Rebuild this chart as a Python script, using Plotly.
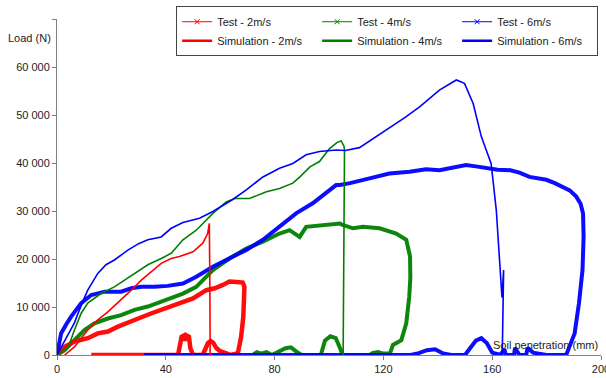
import plotly.graph_objects as go

# ---------------- data (soil penetration mm, load N) ----------------
sim2_x = [2.8, 6.4, 11.3, 15, 18.7, 23.6, 27.3, 31, 34.6, 38.3, 42, 45, 50, 53.6, 55.4, 56, 56.2, 56.3]
sim2_y = [0, 1700, 5200, 7300, 9000, 11500, 13500, 15600, 17400, 19100, 20100, 20500, 21500, 23300, 25300, 27400, 15000, 0]

sim4_x = [0, 4.2, 6.4, 8.9, 11.3, 16.2, 21.1, 24.8, 28.5, 33.4, 38.3, 42, 46.3, 51.2, 57.3, 62.2, 65.3,
          70.8, 77, 81.8, 86.7, 89.3, 93, 96.5, 100.2, 103, 104.5, 105.5, 105.7, 105.4, 105.2]
sim4_y = [0, 1700, 5200, 8700, 10800, 12800, 14200, 15600, 17000, 18800, 20100, 21200, 24000, 26000, 29500, 31900, 32600,
          32600, 34000, 34700, 35800, 37100, 39200, 40300, 43000, 44300, 44600, 43500, 42700, 20000, 0]

sim6_x = [0, 2, 4, 6.4, 9, 11.3, 15, 18, 21.1, 26.2, 30, 33.4, 38.3, 42, 46.3, 52.4, 57.3, 64.6, 69.6, 75.7,
          81.8, 86.7, 91.6, 96.5, 102.6, 106, 111.2, 116, 122.2, 128, 133.3, 140.6, 146.8, 149.8, 153, 156,
          157.8, 159.6, 161.5, 162.7, 163.3, 163.6, 164.2, 164.0, 163.7, 163.7]
sim6_y = [0, 2000, 4200, 6700, 10500, 13500, 17000, 18800, 19800, 21900, 23200, 24000, 24600, 26400, 27600, 28500, 29900, 32400, 34400, 37100,
          38900, 39900, 41700, 42400, 42700, 42600, 43200, 45000, 47200, 49500, 51700, 55200, 57300, 56600, 52400, 45500,
          42700, 39900, 30200, 19800, 13500, 12000, 17700, 13000, 5000, 0]

test2_x = [0, 2.8, 6.4, 11.3, 15, 18.7, 22.4, 26, 29.9, 34.8, 39.5, 43.2, 46.3, 50, 54.9, 58, 61, 63.4, 66, 68.3,
           68.9, 68.8, 68.5, 67.7, 66.5, 64, 62, 60, 58.5, 57.5, 56.5, 55.5, 54.5, 53.5, 50, 49, 48.5, 47.5,
           47, 46.5, 45.8, 45, 44.5, 25, 12.6]
test2_y = [0, 1700, 2800, 3500, 4500, 4900, 5900, 6600, 7600, 8700, 9700, 10400, 11100, 11800, 13500, 13900, 14600, 15300, 15200, 15100,
           14200, 12000, 8000, 3800, 400, 0, 300, 800, 1500, 2500, 2900, 2500, 1200, 0, 0, 1500, 3800, 4100,
           3000, 4000, 3800, 1000, 0, 0, 0]

test4_x = [0, 2.8, 6.4, 10.1, 13.8, 18.7, 23.6, 28.5, 33.4, 38.3, 43.2, 46.3, 51.2, 57.3, 63.4, 69.6, 75.7, 81.8,
           85.5, 87.5, 89.2, 91.6, 97.7, 100.2, 104, 105, 108.8, 112.5, 118.6, 124.7, 128.4, 129.8, 129.9, 129.5,
           128.4, 126.6, 123.5, 122.4, 120, 118, 116, 115, 105, 104, 102.5, 100.5, 98.5, 97, 90, 88, 86, 84,
           81, 79, 77, 75, 73.5, 72]
test4_y = [0, 1000, 3100, 5200, 6600, 7600, 8300, 9400, 10100, 11100, 12100, 12800, 14200, 17700, 20100, 22200, 23600, 25300,
           26000, 25300, 24600, 26700, 27100, 27100, 27400, 27100, 26400, 26700, 26400, 25300, 24000, 20500, 16000, 12100,
           6600, 3100, 2100, 300, 300, 600, 400, 0, 0, 1500, 3500, 3900, 3000, 0, 0, 700, 1600, 1400,
           500, 0, 600, 300, 600, 0]

test6_x = [0, 1.5, 3.5, 5.2, 8.9, 12.6, 17.5, 23.6, 27.3, 31, 35.8, 40.7, 46.3, 51.2, 57.3, 63.4, 69.6, 75.7,
           81.8, 87.9, 94, 99, 102.6, 104, 107.7, 114.9, 122.2, 129.6, 135.7, 140.6, 145, 150.4, 154, 158.1,
           162, 166.7, 170, 173.7, 176.5, 179.9, 183, 186, 188.5, 190.9, 192.5, 193.4, 193.6, 193.2, 191.9,
           190.3, 188.5, 187.2, 180, 175, 173, 172.5, 170, 168.4, 168, 165, 164.5, 163, 160, 158, 156, 154,
           152, 150, 145, 142, 139, 136, 133, 130, 100, 65, 32]
test6_y = [0, 4500, 6500, 8000, 10800, 12500, 13200, 13200, 13900, 14200, 14200, 14400, 14900, 16300, 18400, 20100, 21900, 24000,
           26700, 29500, 31600, 33700, 35400, 35400, 35800, 36800, 37800, 38200, 38700, 38500, 39000, 39600, 39300, 38900,
           38600, 38500, 38000, 37100, 36900, 36500, 35800, 35100, 34300, 33000, 31500, 29500, 24600, 17700, 10800,
           4500, 2000, 0, 0, 500, 1500, 0, 0, 1500, 0, 0, 1200, 0, 500, 2500, 3500, 3000,
           1500, 0, 0, 300, 1200, 1000, 400, 0, 0, 0, 0]

x_ticks = [0, 40, 80, 120, 160, 200]
y_ticks = [0, 10000, 20000, 30000, 40000, 50000, 60000, 70000]
y_tick_text = ["0", "10 000", "20 000", "30 000", "40 000", "50 000", "60 000", ""]

legend_names = ["Test - 2m/s", "Test - 4m/s", "Test - 6m/s",
                "Simulation - 2m/s", "Simulation - 4m/s", "Simulation - 6m/s"]

RED, GREEN, BLUE = "#ff0000", "#008000", "#0000ff"
FONT = "Liberation Sans, Arial"

fig = go.Figure()

# test curves (dense markers in the original -> thick fuzzy lines)
for xs, ys, c, w in [(test4_x, test4_y, GREEN, 4), (test2_x, test2_y, RED, 4.5), (test6_x, test6_y, BLUE, 4)]:
    fig.add_trace(go.Scatter(x=xs, y=ys, mode="lines", line=dict(color=c, width=w),
                             opacity=0.95, showlegend=False, hoverinfo="skip"))
# simulation curves
for xs, ys, c in [(sim2_x, sim2_y, RED), (sim4_x, sim4_y, GREEN), (sim6_x, sim6_y, BLUE)]:
    fig.add_trace(go.Scatter(x=xs, y=ys, mode="lines", line=dict(color=c, width=1.6),
                             showlegend=False, hoverinfo="skip"))

# legend entries
for name, c, is_test in zip(legend_names, [RED, GREEN, BLUE] * 2, [True] * 3 + [False] * 3):
    if is_test:
        fig.add_trace(go.Scatter(x=[None], y=[None], mode="lines+markers", name=name,
                                 line=dict(color=c, width=1),
                                 marker=dict(symbol="x-thin", size=5, color=c,
                                             line=dict(color=c, width=1))))
    else:
        fig.add_trace(go.Scatter(x=[None], y=[None], mode="lines", name=name,
                                 line=dict(color=c, width=2.5)))

axis_common = dict(showgrid=False, zeroline=False, showline=True, linecolor="#808080", linewidth=1,
                   ticks="outside", ticklen=4, tickcolor="#808080",
                   tickfont=dict(family=FONT, size=11, color="#222222"))

fig.update_xaxes(range=[0, 200], tickvals=x_ticks, ticklabeloverflow="allow", **axis_common)
fig.update_yaxes(range=[0, 70000], tickvals=y_ticks, ticktext=y_tick_text, **axis_common)

fig.update_layout(
    width=606, height=378,
    margin=dict(l=57, r=5, t=19, b=23, autoexpand=False),
    paper_bgcolor="white", plot_bgcolor="white",
    font=dict(family=FONT, size=11, color="#222222"),
    legend=dict(orientation="h", x=0.219, xanchor="left", y=1.038, yanchor="top",
                entrywidth=95, entrywidthmode="pixels", bgcolor="white",
                bordercolor="#444444", borderwidth=1, tracegroupgap=0,
                font=dict(family=FONT, size=11, color="#222222")),
    annotations=[
        dict(text="Load (N)", xref="paper", yref="paper", x=-0.007, y=(355 - 38) / 336,
             xanchor="right", yanchor="middle", showarrow=False,
             font=dict(family=FONT, size=11, color="#222222")),
        dict(text="Soil penetration (mm)", xref="paper", yref="paper", x=0.998, y=(355 - 345) / 336,
             xanchor="right", yanchor="middle", showarrow=False,
             font=dict(family=FONT, size=11, color="#222222")),
    ],
)

fig.write_html("out.html")
